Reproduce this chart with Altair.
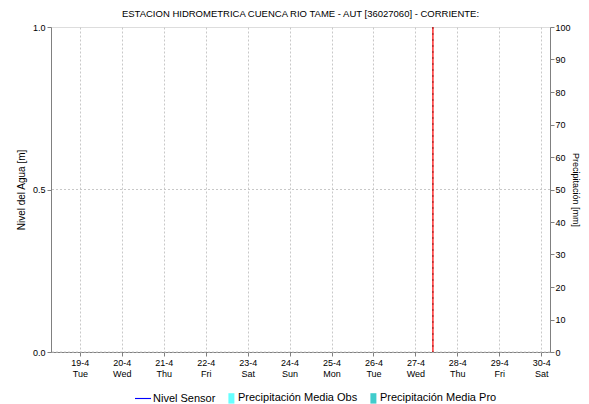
import altair as alt
import pandas as pd

# ---- data ----
title_text = "ESTACION HIDROMETRICA CUENCA RIO TAME - AUT [36027060] - CORRIENTE:"
now_time = ["2022-04-27T10:00:00"]
tick_days = ["2022-04-19", "2022-04-20", "2022-04-21", "2022-04-22", "2022-04-23", "2022-04-24",
             "2022-04-25", "2022-04-26", "2022-04-27", "2022-04-28", "2022-04-29", "2022-04-30"]
nivel_times = []      # no sensor data in the period
nivel_values = []
precip_times = []     # no precipitation data in the period
precip_obs = []
precip_pro = []
series_names = ["Nivel Sensor", "Precipitación Media Obs", "Precipitación Media Pro"]
series_colors = ["#0000ff", "#66ffff", "#40cccc"]
left_ticks = [0.0, 0.5, 1.0]
right_ticks = [0, 10, 20, 30, 40, 50, 60, 70, 80, 90, 100]

FONT = "Liberation Sans"

x_scale = alt.Scale(domain=[alt.DateTime(year=2022, month=4, date=18, hours=7, minutes=30),
                            alt.DateTime(year=2022, month=4, date=30, hours=5)], padding=0)
tick_vals = [alt.DateTime(year=2022, month=4, date=int(d[-2:])) for d in tick_days]

x_axis = alt.Axis(
    values=tick_vals,
    labelExpr="[timeFormat(datum.value, '%-d-%-m'), timeFormat(datum.value, '%a')]",
    title=None, grid=True, gridDash=[2, 2], gridColor="#c8c8c8",
    tickSize=4, tickColor="#808080", domainColor="#808080",
    labelFont=FONT, labelFontSize=9, labelColor="#000000", labelPadding=2,
    labelLineHeight=11,
)

nivel_df = pd.DataFrame({"t": pd.to_datetime(nivel_times), "v": pd.Series(nivel_values, dtype=float)})
precip_df = pd.DataFrame({
    "t": pd.to_datetime(precip_times * 2),
    "v": pd.Series(precip_obs + precip_pro, dtype=float),
    "s": pd.Series([series_names[1]] * len(precip_obs) + [series_names[2]] * len(precip_pro), dtype=str),
})

# legend symbol paths (line for the sensor, narrow tall boxes for precipitation)
line_path = "M-1,-0.07L1,-0.07L1,0.07L-1,0.07Z"
box_path = "M0.05,-0.65L0.8,-0.65L0.8,0.65L0.05,0.65Z"

legend_df = pd.DataFrame({"s": series_names, "t": [None] * 3, "v": [None] * 3})

left_axis = alt.Axis(values=left_ticks, format=".1f", title="Nivel del Agua [m]",
                     grid=False, tickSize=4, tickColor="#808080", domainColor="#808080",
                     labelFont=FONT, labelFontSize=9, labelColor="#000000", labelPadding=2,
                     titleFont=FONT, titleFontSize=10, titleFontWeight="normal",
                     titleColor="#000000", titlePadding=6)

nivel_line = alt.Chart(nivel_df).mark_line(color="#0000ff", strokeWidth=1).encode(
    x=alt.X("t:T", scale=x_scale, axis=x_axis),
    y=alt.Y("v:Q", scale=alt.Scale(domain=[0, 1]), axis=left_axis),
)

level_grid = alt.Chart(pd.DataFrame({"v": [0.0, 0.5]})).mark_rule(
    strokeDash=[2, 2], color="#c8c8c8", strokeWidth=1
).encode(y=alt.Y("v:Q", scale=alt.Scale(domain=[0, 1]), axis=left_axis))

legend_layer = alt.Chart(legend_df).mark_point(filled=True, opacity=1).encode(
    x=alt.X("t:T", scale=x_scale),
    y=alt.Y("v:Q", scale=alt.Scale(domain=[0, 1])),
    color=alt.Color("s:N", scale=alt.Scale(domain=series_names, range=series_colors),
                    legend=alt.Legend(title=None, orient="none", direction="horizontal",
                                      legendX=84, legendY=363, symbolSize=256,
                                      labelFont=FONT, labelFontSize=11, labelColor="#000000",
                                      labelOffset=2, columnPadding=4, symbolStrokeWidth=0)),
    shape=alt.Shape("s:N", scale=alt.Scale(domain=series_names, range=[line_path, box_path, box_path]),
                    legend=None),
)

precip_bars = alt.Chart(precip_df).mark_bar(width=3).encode(
    x=alt.X("t:T", scale=x_scale),
    y=alt.Y("v:Q", scale=alt.Scale(domain=[0, 100]),
            axis=alt.Axis(values=right_ticks, orient="right", title="Precipitación [mm]",
                          titleAngle=90, grid=False, tickSize=4, tickColor="#808080",
                          domainColor="#808080", labelFont=FONT, labelFontSize=9,
                          labelColor="#000000", labelPadding=1, titleFont=FONT, titleFontSize=9,
                          titleFontWeight="normal", titleColor="#000000", titlePadding=0)),
    color=alt.Color("s:N", scale=alt.Scale(domain=series_names, range=series_colors), legend=None),
)

now_df = pd.DataFrame({"t": pd.to_datetime(now_time)})
now_red = alt.Chart(now_df).mark_rule(color="#ff3030", strokeWidth=1.5).encode(
    x=alt.X("t:T", scale=x_scale))
now_dash = alt.Chart(now_df).mark_rule(color="#902020", strokeWidth=1, strokeDash=[2, 4]).encode(
    x=alt.X("t:T", scale=x_scale))

left = alt.layer(nivel_line, level_grid, legend_layer, now_red, now_dash)
chart = alt.layer(left, precip_bars).resolve_scale(y="independent").properties(
    width=499, height=325,
    title=alt.TitleParams(title_text, font=FONT, fontSize=9.5, fontWeight="normal",
                          color="#000000", offset=5),
    padding={"left": 43, "top": 19, "right": 31, "bottom": 52},
    autosize=alt.AutoSizeParams(type="none"),
).configure_view(stroke="#808080", strokeWidth=1).configure(background="#ffffff")

chart.save("out.html", embed_options={"renderer": "svg", "actions": False})
